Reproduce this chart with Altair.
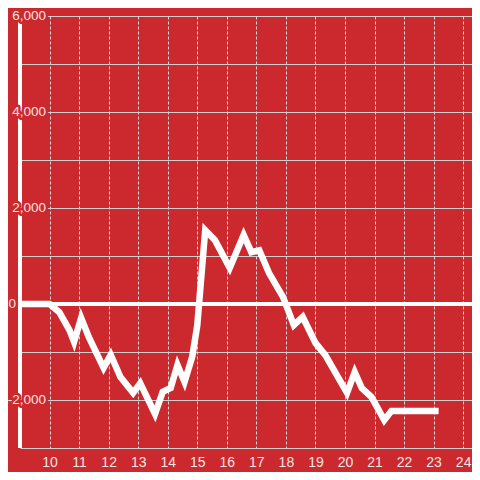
import altair as alt
import pandas as pd

BG = "#cc292e"
LABEL = "#f2e4e4"

hours = [9.0, 10.0, 10.33, 10.67, 10.83, 11.07, 11.33, 11.83, 12.07, 12.4, 12.83, 13.07,
         13.57, 13.83, 14.1, 14.33, 14.57, 14.83, 15.0, 15.27, 15.6, 16.1, 16.57, 16.83,
         17.1, 17.43, 17.9, 18.27, 18.57, 19.0, 19.33, 20.07, 20.33, 20.57, 20.9, 21.33,
         21.57, 23.17]
values = [0, 0, -170, -540, -790, -290, -690, -1330, -1060, -1520, -1850, -1650,
          -2290, -1830, -1750, -1270, -1625, -1100, -450, 1540, 1330, 750, 1440, 1080,
          1120, 645, 150, -440, -270, -810, -1060, -1850, -1420, -1750, -1940, -2420,
          -2230, -2230]

x_ticks = list(range(10, 25))
y_grid = list(range(-3000, 6001, 1000))
y_labels = [-2000, 2000, 4000, 6000]
y_zero = [0]
x_domain = [9, 24.3]
y_domain = [-3000, 6000]

df = pd.DataFrame({"hour": hours, "value": values})
lab_df = pd.DataFrame({"value": y_labels, "text": [f"{v:,}" for v in y_labels]})
zero_df = pd.DataFrame({"value": y_zero, "text": ["0"]})

xscale = alt.Scale(domain=x_domain, nice=False, zero=False)
yscale = alt.Scale(domain=y_domain, nice=False, zero=False)

FONT = "Liberation Sans"
FS = 14
YFS = 13.5

xaxis = alt.Axis(values=x_ticks, grid=True, gridDash=[3, 2], gridColor="#d9d9d9",
                 gridWidth=1, domain=False, ticks=False, labelColor=LABEL,
                 labelFont=FONT, labelFontSize=FS, labelPadding=7,
                 title=None, labelFlush=False, labelOverlap=False, labelSeparation=0,
                 labelBound=False)
yaxis = alt.Axis(values=y_grid, grid=True, gridColor="#cfcfcf", gridWidth=1,
                 domain=False, ticks=False, labels=False, title=None)

line = alt.Chart(df).mark_line(color="white", strokeWidth=6.5, strokeJoin="miter").encode(
    x=alt.X("hour:Q", scale=xscale, axis=xaxis, title=None),
    y=alt.Y("value:Q", scale=yscale, axis=yaxis, title=None),
)

yline = alt.Chart(df).mark_rule(color="white", strokeWidth=3).encode(
    x=alt.X(datum=x_domain[0], scale=xscale, axis=xaxis),
    y=alt.Y(datum=y_domain[0], scale=yscale, axis=yaxis),
    y2=alt.datum(y_domain[1]),
)
zline = alt.Chart(df).mark_rule(color="white", strokeWidth=3).encode(
    y=alt.Y(datum=0, scale=yscale, axis=yaxis),
    x=alt.X(datum=x_domain[0], scale=xscale, axis=xaxis),
    x2=alt.datum(x_domain[1]),
)

def labels(data, px):
    halo = alt.Chart(data).mark_text(align="right", baseline="middle", font=FONT,
                                     fontSize=YFS, fill=BG, stroke=BG, strokeWidth=5,
                                     strokeJoin="round").encode(
        x=alt.value(px), y=alt.Y("value:Q", scale=yscale, axis=yaxis, title=None), text="text:N")
    txt = alt.Chart(data).mark_text(align="right", baseline="middle", font=FONT,
                                    fontSize=YFS, fill=LABEL).encode(
        x=alt.value(px), y=alt.Y("value:Q", scale=yscale, axis=yaxis, title=None), text="text:N")
    return halo + txt

chart = alt.layer(line, yline, zline, labels(lab_df, 26), labels(zero_df, -4)).properties(
    width=452, height=432,
    autosize=alt.AutoSizeParams(type="none"),
    padding={"left": 12, "top": 8, "right": 0, "bottom": 24},
    background=BG,
).configure_view(stroke=None).configure_axisX(labelOverlap=False)

chart.save("out.html", embed_options={"renderer": "svg", "actions": False})
